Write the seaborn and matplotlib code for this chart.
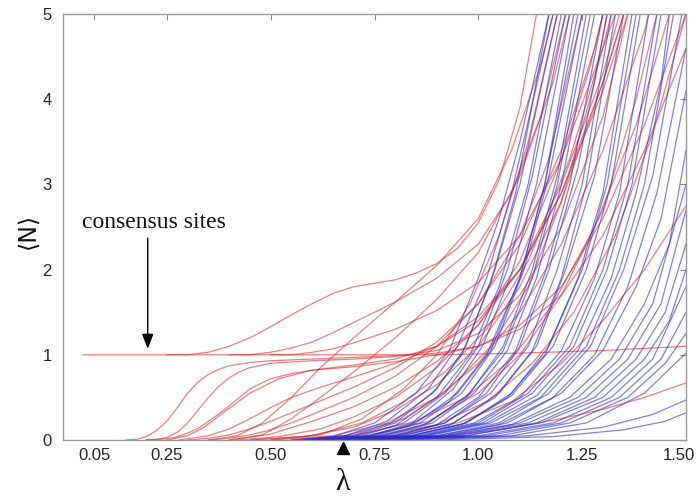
import matplotlib
matplotlib.use("Agg")
import matplotlib.pyplot as plt
import matplotlib.transforms as mtransforms
import seaborn as sns
import pandas as pd

# ---------------- data ----------------
# each curve: list of (lambda, <N>) points
RED_CURVES = [
    [(0.048, 1.0), (0.9, 1.0), (1.1, 1.02), (1.3, 1.05), (1.5, 1.1)],
    [(0.25, 1.0), (0.3, 1.0), (0.35, 1.03), (0.4, 1.1), (0.45, 1.2), (0.5, 1.33), (0.55, 1.47), (0.6, 1.6),
     (0.65, 1.72), (0.7, 1.8), (0.75, 1.84), (0.8, 1.88), (0.85, 1.96), (0.9, 2.07), (0.95, 2.25),
     (1.0, 2.55), (1.05, 3.05), (1.1, 3.9), (1.14, 5.0)],
    [(0.4, 1.0), (0.45, 1.0), (0.5, 1.03), (0.55, 1.08), (0.6, 1.15), (0.65, 1.26), (0.7, 1.38), (0.8, 1.62),
     (0.9, 1.9), (1.0, 2.3), (1.08, 2.9), (1.15, 3.8), (1.21, 5.0)],
    [(0.5, 1.0), (0.55, 1.0), (0.6, 1.03), (0.65, 1.07), (0.7, 1.14), (0.8, 1.3), (0.9, 1.52), (1.0, 1.85),
     (1.1, 2.4), (1.2, 3.3), (1.3, 4.6), (1.33, 5.0)],
    [(0.15, 0.0), (0.18, 0.01), (0.2, 0.04), (0.225, 0.11), (0.25, 0.22), (0.275, 0.38), (0.3, 0.55),
     (0.325, 0.68), (0.35, 0.77), (0.375, 0.83), (0.4, 0.87), (0.45, 0.91), (0.5, 0.93), (0.6, 0.95),
     (0.7, 0.97), (0.8, 0.99), (0.9, 1.02), (1.0, 1.1), (1.1, 1.3), (1.2, 1.7), (1.3, 2.4), (1.4, 3.4),
     (1.5, 4.6)],
    [(0.2, 0.0), (0.23, 0.01), (0.25, 0.03), (0.275, 0.09), (0.3, 0.2), (0.325, 0.35), (0.35, 0.5),
     (0.375, 0.63), (0.4, 0.73), (0.425, 0.8), (0.45, 0.85), (0.5, 0.9), (0.6, 0.93), (0.7, 0.95),
     (0.8, 0.98), (0.9, 1.05), (1.0, 1.25), (1.1, 1.7), (1.2, 2.5), (1.3, 3.8), (1.36, 5.0)],
    [(0.2, 0.0), (0.24, 0.01), (0.27, 0.03), (0.3, 0.08), (0.33, 0.15), (0.365, 0.27), (0.4, 0.4),
     (0.45, 0.6), (0.5, 0.72), (0.55, 0.78), (0.6, 0.82), (0.7, 0.86), (0.8, 0.92), (0.9, 1.0), (1.0, 1.1),
     (1.1, 1.35), (1.2, 1.8), (1.3, 2.6), (1.4, 3.7), (1.5, 5.0)],
    [(0.28, 0.0), (0.35, 0.05), (0.4, 0.13), (0.45, 0.25), (0.5, 0.38), (0.55, 0.5), (0.62, 0.62),
     (0.7, 0.74), (0.8, 0.9), (0.9, 1.1), (1.0, 1.45), (1.1, 2.0), (1.2, 2.9), (1.3, 4.2), (1.35, 5.0)],
    [(0.3, 0.0), (0.35, 0.02), (0.4, 0.06), (0.45, 0.13), (0.5, 0.22), (0.6, 0.42), (0.7, 0.62), (0.8, 0.85),
     (0.9, 1.15), (1.0, 1.6), (1.1, 2.3), (1.2, 3.4), (1.28, 4.6), (1.3, 5.0)],
    [(0.35, 0.0), (0.4, 0.02), (0.45, 0.06), (0.5, 0.12), (0.55, 0.2), (0.62, 0.34), (0.7, 0.5), (0.8, 0.75),
     (0.9, 1.1), (1.0, 1.6), (1.1, 2.4), (1.17, 3.3), (1.25, 5.0)],
    [(0.4, 0.0), (0.45, 0.03), (0.5, 0.07), (0.6, 0.22), (0.7, 0.39), (0.8, 0.62), (0.9, 0.92), (1.0, 1.35),
     (1.1, 2.0), (1.2, 3.0), (1.3, 4.3), (1.34, 5.0)],
    [(0.42, 0.0), (0.52, 0.04), (0.62, 0.13), (0.7, 0.27), (0.8, 0.5), (0.9, 0.85), (1.0, 1.35), (1.1, 2.1),
     (1.2, 3.3), (1.27, 4.4), (1.3, 5.0)],
    [(0.45, 0.0), (0.58, 0.04), (0.7, 0.15), (0.8, 0.35), (0.9, 0.65), (1.0, 1.1), (1.1, 1.8), (1.2, 2.8),
     (1.3, 4.2), (1.35, 5.0)],
    [(0.35, 0.0), (0.42, 0.05), (0.48, 0.2), (0.55, 0.5), (0.62, 0.85), (0.7, 1.2), (0.8, 1.62), (0.9, 2.05),
     (1.0, 2.6), (1.08, 3.4), (1.15, 4.4), (1.18, 5.0)],
    [(0.4, 0.0), (0.48, 0.06), (0.55, 0.25), (0.62, 0.5), (0.7, 0.8), (0.8, 1.2), (0.9, 1.65), (1.0, 2.2),
     (1.1, 3.1), (1.18, 4.2), (1.22, 5.0)],
    [(0.25, 0.0), (0.3, 0.05), (0.34, 0.15), (0.38, 0.3), (0.45, 0.55), (0.52, 0.72), (0.6, 0.82),
     (0.7, 0.88), (0.8, 0.95), (0.9, 1.1), (1.0, 1.4), (1.1, 2.0), (1.2, 2.9), (1.3, 4.1), (1.36, 5.0)],
    [(0.5, 0.0), (0.65, 0.05), (0.78, 0.2), (0.9, 0.5), (1.0, 0.9), (1.1, 1.5), (1.2, 2.3), (1.3, 3.4),
     (1.4, 4.8), (1.41, 5.0)],
    [(0.55, 0.0), (0.7, 0.05), (0.85, 0.22), (0.97, 0.5), (1.08, 0.95), (1.18, 1.6), (1.28, 2.5), (1.38, 3.7),
     (1.46, 5.0)],
    [(0.6, 0.0), (0.75, 0.04), (0.9, 0.18), (1.02, 0.45), (1.13, 0.9), (1.23, 1.5), (1.33, 2.4), (1.42, 3.6),
     (1.5, 5.0)],
    [(0.6, 0.0), (0.8, 0.05), (0.95, 0.2), (1.08, 0.45), (1.2, 0.9), (1.3, 1.4), (1.4, 2.0), (1.5, 2.75)],
    [(0.65, 0.0), (0.9, 0.04), (1.05, 0.12), (1.2, 0.25), (1.3, 0.36), (1.4, 0.5), (1.5, 0.67)],
    [(0.5, 0.0), (0.62, 0.06), (0.72, 0.25), (0.82, 0.6), (0.9, 1.0), (0.98, 1.6), (1.05, 2.4), (1.12, 3.5),
     (1.19, 5.0)],
    [(0.45, 0.0), (0.6, 0.05), (0.72, 0.2), (0.82, 0.45), (0.92, 0.8), (1.02, 1.3), (1.12, 2.1), (1.22, 3.3),
     (1.3, 4.6), (1.32, 5.0)],
    [(0.55, 0.0), (0.7, 0.06), (0.82, 0.25), (0.93, 0.6), (1.03, 1.1), (1.12, 1.8), (1.2, 2.8), (1.28, 4.2),
     (1.31, 5.0)],
    [(0.58, 0.0), (0.74, 0.05), (0.88, 0.22), (1.0, 0.55), (1.1, 1.0), (1.2, 1.7), (1.3, 2.7), (1.38, 4.0),
     (1.43, 5.0)],
]

BLUE_CURVES = [
    [(0.55, 0), (0.65, 0.04), (0.75, 0.2), (0.85, 0.55), (0.93, 1.05), (1.0, 1.9), (1.05, 2.6), (1.1, 3.5), (1.17, 5)],
    [(0.57, 0), (0.68, 0.05), (0.78, 0.22), (0.88, 0.6), (0.95, 1.1), (1.02, 1.9), (1.08, 2.9), (1.18, 5)],
    [(0.6, 0), (0.7, 0.05), (0.8, 0.2), (0.9, 0.6), (0.97, 1.1), (1.04, 2.0), (1.1, 3.0), (1.19, 5)],
    [(0.58, 0), (0.7, 0.04), (0.8, 0.17), (0.9, 0.5), (0.98, 1.0), (1.05, 1.8), (1.12, 3.0), (1.2, 5)],
    [(0.6, 0), (0.72, 0.05), (0.82, 0.2), (0.92, 0.55), (1.0, 1.1), (1.07, 2.0), (1.13, 3.1), (1.21, 5)],
    [(0.62, 0), (0.74, 0.05), (0.84, 0.2), (0.94, 0.6), (1.01, 1.1), (1.08, 1.95), (1.14, 3.0), (1.22, 5)],
    [(0.6, 0), (0.72, 0.04), (0.83, 0.16), (0.93, 0.45), (1.02, 1.0), (1.1, 1.9), (1.16, 3.0), (1.24, 5)],
    [(0.63, 0), (0.75, 0.05), (0.86, 0.2), (0.96, 0.55), (1.04, 1.1), (1.11, 2.0), (1.17, 3.1), (1.25, 5)],
    [(0.62, 0), (0.75, 0.04), (0.87, 0.18), (0.97, 0.5), (1.06, 1.05), (1.13, 1.9), (1.19, 3.0), (1.27, 5)],
    [(0.65, 0), (0.78, 0.05), (0.89, 0.2), (0.99, 0.55), (1.07, 1.05), (1.14, 1.9), (1.2, 3.0), (1.28, 5)],
    [(0.64, 0), (0.78, 0.04), (0.9, 0.18), (1.0, 0.5), (1.09, 1.05), (1.16, 1.95), (1.22, 3.0), (1.3, 5)],
    [(0.66, 0), (0.8, 0.05), (0.92, 0.2), (1.02, 0.55), (1.1, 1.1), (1.17, 2.0), (1.24, 3.2), (1.31, 5)],
    [(0.65, 0), (0.8, 0.04), (0.93, 0.17), (1.04, 0.5), (1.13, 1.05), (1.2, 1.9), (1.26, 3.0), (1.33, 5)],
    [(0.67, 0), (0.82, 0.05), (0.94, 0.2), (1.05, 0.55), (1.14, 1.1), (1.21, 2.0), (1.28, 3.1), (1.35, 5)],
    [(0.66, 0), (0.82, 0.04), (0.96, 0.18), (1.07, 0.5), (1.16, 1.0), (1.24, 1.9), (1.3, 2.9), (1.37, 5)],
    [(0.68, 0), (0.84, 0.05), (0.97, 0.2), (1.08, 0.52), (1.18, 1.1), (1.26, 2.0), (1.32, 3.0), (1.39, 5)],
    [(0.67, 0), (0.85, 0.05), (0.99, 0.2), (1.1, 0.5), (1.2, 1.05), (1.28, 1.9), (1.34, 2.9), (1.41, 5)],
    [(0.7, 0), (0.86, 0.05), (1.0, 0.2), (1.12, 0.55), (1.22, 1.1), (1.3, 2.0), (1.36, 3.0), (1.43, 5)],
    [(0.68, 0), (0.87, 0.05), (1.02, 0.2), (1.14, 0.52), (1.24, 1.05), (1.32, 1.9), (1.38, 2.9), (1.44, 4.2), (1.46, 5)],
    [(0.7, 0), (0.88, 0.05), (1.03, 0.2), (1.15, 0.5), (1.26, 1.1), (1.34, 2.0), (1.4, 3.0), (1.47, 5)],
    [(0.72, 0), (0.9, 0.05), (1.05, 0.2), (1.17, 0.55), (1.27, 1.1), (1.35, 2.0), (1.42, 3.1), (1.49, 5)],
    [(0.7, 0), (0.9, 0.05), (1.05, 0.18), (1.18, 0.5), (1.28, 1.0), (1.36, 1.8), (1.43, 2.9), (1.5, 4.6)],
    [(0.72, 0), (0.92, 0.05), (1.07, 0.2), (1.2, 0.55), (1.3, 1.05), (1.38, 1.8), (1.44, 2.6), (1.5, 4.1)],
    [(0.7, 0), (0.92, 0.05), (1.08, 0.18), (1.22, 0.5), (1.32, 0.95), (1.4, 1.6), (1.46, 2.3), (1.5, 3.4)],
    [(0.72, 0), (0.94, 0.05), (1.1, 0.2), (1.24, 0.5), (1.34, 0.95), (1.42, 1.6), (1.5, 3.0)],
    [(0.7, 0), (0.95, 0.05), (1.12, 0.2), (1.26, 0.5), (1.36, 0.95), (1.44, 1.6), (1.5, 2.7)],
    [(0.75, 0), (0.97, 0.05), (1.14, 0.2), (1.28, 0.5), (1.38, 0.95), (1.45, 1.5), (1.5, 2.3)],
    [(0.72, 0), (0.97, 0.05), (1.15, 0.2), (1.3, 0.5), (1.4, 0.95), (1.46, 1.4), (1.5, 2.0)],
    [(0.75, 0), (1.0, 0.05), (1.18, 0.2), (1.32, 0.5), (1.42, 0.95), (1.5, 1.8)],
    [(0.78, 0), (1.02, 0.05), (1.2, 0.2), (1.34, 0.5), (1.44, 0.95), (1.5, 1.5)],
    [(0.8, 0), (1.05, 0.05), (1.22, 0.2), (1.36, 0.5), (1.45, 0.9), (1.5, 1.25)],
    [(0.8, 0), (1.08, 0.05), (1.26, 0.2), (1.4, 0.55), (1.5, 1.02)],
    [(0.85, 0), (1.12, 0.05), (1.3, 0.15), (1.42, 0.3), (1.5, 0.47)],
    [(0.9, 0), (1.18, 0.04), (1.35, 0.12), (1.45, 0.22), (1.5, 0.32)],
    [(0.56, 0), (0.68, 0.05), (0.79, 0.2), (0.89, 0.55), (0.96, 1.0), (1.03, 1.85), (1.09, 2.9), (1.17, 5)],
    [(0.6, 0), (0.74, 0.05), (0.85, 0.2), (0.95, 0.55), (1.03, 1.05), (1.1, 1.9), (1.16, 3.0), (1.23, 5)],
    [(0.63, 0), (0.77, 0.05), (0.88, 0.2), (0.98, 0.55), (1.06, 1.1), (1.13, 2.0), (1.19, 3.1), (1.26, 5)],
    [(0.66, 0), (0.8, 0.05), (0.92, 0.2), (1.03, 0.55), (1.12, 1.1), (1.19, 2.0), (1.25, 3.0), (1.32, 5)],
    [(0.68, 0), (0.84, 0.05), (0.97, 0.2), (1.08, 0.55), (1.17, 1.1), (1.25, 2.0), (1.31, 3.0), (1.38, 5)],
    [(0.7, 0), (0.87, 0.05), (1.01, 0.2), (1.13, 0.55), (1.23, 1.1), (1.31, 2.0), (1.37, 3.0), (1.44, 5)],
]

X_TICKS = [0.075, 0.25, 0.50, 0.75, 1.00, 1.25, 1.50]
X_TICK_LABELS = ["0.05", "0.25", "0.50", "0.75", "1.00", "1.25", "1.50"]
Y_TICKS = [0, 1, 2, 3, 4, 5]
Y_TICK_LABELS = ["0", "1", "2", "3", "4", "5"]
MARKER_LAMBDA = 0.673
ANNOT_TEXT = "consensus sites"
ANNOT_TEXT_POS = (0.219, 2.55)
ARROW_FROM = (0.204, 2.37)
ARROW_TO = (0.204, 1.07)

# ---------------- build long-form table ----------------
rows = []
cid = 0
for group, curves in (("red", RED_CURVES), ("blue", BLUE_CURVES)):
    for curve in curves:
        for k, (lam, n) in enumerate(curve):
            rows.append({"curve": cid, "group": group, "order": k, "lam": lam, "N": n})
        cid += 1
df = pd.DataFrame(rows)

# ---------------- figure ----------------
sns.set_style("white")
plt.rcParams["font.family"] = ["Liberation Sans", "DejaVu Sans"]

fig = plt.figure(figsize=(6.97, 5.03), dpi=100)
ax = fig.add_axes([63 / 697, 1 - 440 / 503, (686 - 63) / 697, (440 - 14) / 503])

sns.lineplot(data=df, x="lam", y="N", hue="group", hue_order=["red", "blue"],
             palette={"red": "#dc2a2a", "blue": "#2b2bcf"}, units="curve",
             estimator=None, sort=False, legend=False, linewidth=0.9, alpha=0.6, ax=ax)

ax.set_xlim(0, 1.5)
ax.set_ylim(0, 5)
ax.set_xticks(X_TICKS)
ax.set_xticklabels(X_TICK_LABELS)
ax.set_yticks(Y_TICKS)
ax.set_yticklabels(Y_TICK_LABELS)
ax.tick_params(axis="both", which="both", direction="in", length=4, width=0.8,
               color="#888888", labelsize=12, labelcolor="#222222",
               top=True, right=True)
ax.tick_params(axis="x", pad=6)
ax.tick_params(axis="y", pad=8)
for s in ax.spines.values():
    s.set_color("#999999")
    s.set_linewidth(1.0)

# last x tick label sits slightly left of the right edge, as in the reference
last = ax.get_xticklabels()[-1]
last.set_transform(last.get_transform() +
                   mtransforms.ScaledTranslation(-7 / 100, 0, fig.dpi_scale_trans))

ax.set_xlabel("λ", fontsize=22, family=["Liberation Serif", "DejaVu Serif"], color="#111111")
ax.xaxis.set_label_coords((343 - 63) / 623, -0.065)
ax.set_ylabel("⟨N⟩", fontsize=17, family=["DejaVu Sans"], color="#111111")
ax.yaxis.set_label_coords(-0.038, 0.49)

# black triangle marker just below the axis
trans = mtransforms.blended_transform_factory(ax.transData, ax.transAxes)
ax.plot([MARKER_LAMBDA], [-0.019], marker="^", color="black", markersize=8,
        transform=trans, clip_on=False, linestyle="none")

# annotation
ax.text(ANNOT_TEXT_POS[0], ANNOT_TEXT_POS[1], ANNOT_TEXT, ha="center", va="center",
        fontsize=17, family=["Liberation Serif", "DejaVu Serif"], color="#111111")
ax.annotate("", xy=ARROW_TO, xytext=ARROW_FROM,
            arrowprops=dict(arrowstyle="-|>,head_length=0.9,head_width=0.35",
                            color="black", lw=1.0, shrinkA=0, shrinkB=0))

fig.savefig("out.png", dpi=100)
